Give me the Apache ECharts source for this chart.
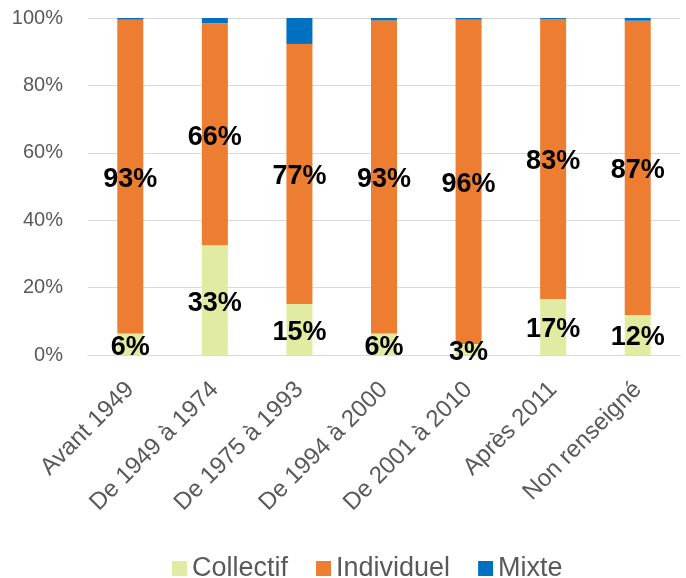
<!DOCTYPE html>
<html>
<head>
<meta charset="utf-8">
<script src="https://cdn.jsdelivr.net/npm/echarts@6/dist/echarts.min.js"></script>
<style>html,body{margin:0;padding:0;background:#fff;}#c{width:686px;height:578px;}</style>
</head>
<body>
<div id="c"></div>
<script>
const categories = ["Avant 1949", "De 1949 à 1974", "De 1975 à 1993", "De 1994 à 2000", "De 2001 à 2010", "Après 2011", "Non renseigné"];
const collectif = [6.4, 32.6, 15.1, 6.4, 3.3, 16.6, 11.9];
const individuel = [93.1, 65.8, 77.2, 92.9, 96.2, 83.1, 87.3];
const mixte = [0.5, 1.6, 7.7, 0.7, 0.5, 0.3, 0.8];
const yTicks = [0, 20, 40, 60, 80, 100];

const FONT = "Liberation Sans";
const labelStyle = {
  show: true,
  position: 'inside',
  offset: [0, 3],
  color: '#000',
  fontWeight: 'bold',
  fontSize: 27,
  fontFamily: FONT,
  formatter: p => Math.round(p.value) + '%'
};

const chart = echarts.init(document.getElementById('c'), null, {renderer: 'canvas'});
chart.setOption({
  animation: false,
  textStyle: {fontFamily: FONT},
  grid: {left: 88, right: 6, top: 18, bottom: 223, containLabel: false},
  legend: {
    left: 167, top: 550,
    icon: 'rect', itemWidth: 15, itemHeight: 15, itemGap: 28,
    textStyle: {fontSize: 27, color: '#595959', fontFamily: FONT, padding: [0, 0, 0, 0]},
    data: ['Collectif', 'Individuel', 'Mixte']
  },
  xAxis: {
    type: 'category',
    data: categories,
    axisTick: {show: false},
    axisLine: {lineStyle: {color: '#d9d9d9', width: 1}},
    axisLabel: {rotate: 45, margin: 31, fontSize: 24, color: '#595959', fontFamily: FONT, interval: 0}
  },
  yAxis: {
    type: 'value',
    min: yTicks[0], max: yTicks[yTicks.length - 1], interval: 20,
    axisLine: {show: false},
    axisTick: {show: false},
    splitLine: {lineStyle: {color: '#d9d9d9', width: 1}},
    axisLabel: {formatter: '{value}%', fontSize: 20, color: '#595959', margin: 25, fontFamily: FONT}
  },
  series: [
    {name: 'Collectif', type: 'bar', stack: 't', barWidth: 26, data: collectif,
     itemStyle: {color: '#e2eba2'}, label: labelStyle},
    {name: 'Individuel', type: 'bar', stack: 't', barWidth: 26, data: individuel,
     itemStyle: {color: '#ed7d31'}, label: labelStyle},
    {name: 'Mixte', type: 'bar', stack: 't', barWidth: 26, data: mixte,
     itemStyle: {color: '#0070c0'}, label: {show: false}}
  ]
});
</script>
</body>
</html>
